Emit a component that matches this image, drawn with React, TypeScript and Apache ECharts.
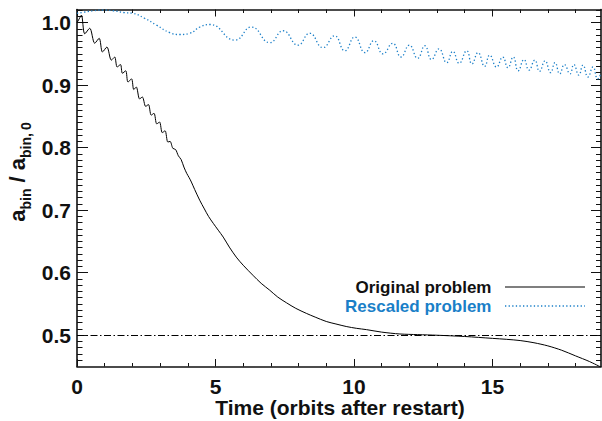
import React, { useEffect, useRef } from "react";
import * as echarts from "echarts";

// ---- data ----
const origT = [0, 0.08, 0.16, 0.28, 0.46, 0.64, 0.8, 0.92, 1.08, 1.24, 1.36, 1.45, 1.57, 1.64, 1.76, 1.84, 1.97, 2.05, 2.14, 2.26, 2.36, 2.48, 2.58, 2.68, 2.78, 2.88, 2.98, 3.08, 3.18, 3.28, 3.36, 3.46, 3.56, 3.66, 3.76, 3.86, 3.96, 4.05, 4.13, 4.25, 4.43, 4.6, 4.75, 4.92, 5.1, 5.28, 5.5, 5.75, 6.0, 6.35, 6.65, 6.96, 7.25, 7.56, 7.9, 8.28, 8.6, 9.0, 9.35, 9.72, 10.1, 10.45, 11.0, 11.66, 12.3, 13.0, 14.0, 15.0, 15.5, 16.0, 16.5, 17.0, 17.5, 18.0, 18.5, 18.92];
const origV = [1.0, 1.006, 1.012, 0.982, 0.991, 0.967, 0.975, 0.953, 0.961, 0.94, 0.945, 0.929, 0.933, 0.919, 0.923, 0.905, 0.91, 0.893, 0.897, 0.878, 0.881, 0.866, 0.869, 0.852, 0.855, 0.838, 0.841, 0.824, 0.827, 0.809, 0.81, 0.799, 0.797, 0.787, 0.781, 0.769, 0.759, 0.752, 0.745, 0.733, 0.716, 0.702, 0.69, 0.679, 0.668, 0.657, 0.641, 0.625, 0.612, 0.596, 0.583, 0.572, 0.561, 0.552, 0.543, 0.535, 0.529, 0.522, 0.518, 0.514, 0.511, 0.509, 0.505, 0.502, 0.501, 0.5, 0.498, 0.495, 0.4935, 0.4915, 0.488, 0.483, 0.476, 0.467, 0.458, 0.449];

const rescT = [0, 0.3, 0.6, 0.95, 1.3, 1.7, 2.0, 2.44, 2.87, 3.35, 3.71, 4.07, 4.44, 4.8, 5.7, 6.3, 6.96, 7.44, 7.98, 8.4, 8.88, 9.3, 9.67, 10.03, 10.4, 10.72, 11.05, 11.4, 11.7, 12.0, 12.3, 12.56, 12.8, 13.07, 13.35, 13.57, 13.8, 14.07, 14.26, 14.48, 14.72, 14.9, 15.15, 15.37, 15.56, 15.75, 15.93, 16.14, 16.32, 16.53, 16.7, 16.9, 17.1, 17.26, 17.43, 17.6, 17.8, 17.94, 18.12, 18.27, 18.45, 18.63, 18.8, 18.92];
const rescV = [1.015, 1.017, 1.019, 1.02, 1.019, 1.016, 1.015, 1.007, 0.996, 0.984, 0.981, 0.983, 0.993, 0.997, 0.972, 0.993, 0.968, 0.987, 0.964, 0.983, 0.96, 0.979, 0.955, 0.977, 0.952, 0.971, 0.95, 0.967, 0.945, 0.964, 0.943, 0.963, 0.941, 0.958, 0.936, 0.954, 0.935, 0.955, 0.934, 0.952, 0.93, 0.948, 0.929, 0.945, 0.928, 0.945, 0.923, 0.941, 0.924, 0.94, 0.922, 0.939, 0.92, 0.936, 0.918, 0.933, 0.918, 0.933, 0.916, 0.932, 0.913, 0.929, 0.91, 0.92];

const xMajor = [0, 5, 10, 15];
const yMajor = [0.5, 0.6, 0.7, 0.8, 0.9, 1.0];
const refLevel = 0.5;
const legendNames = ["Original problem", "Rescaled problem"];
const xTitle = "Time (orbits after restart)";

const X_MIN = 0, X_MAX = 18.92, Y_MIN = 0.45, Y_MAX = 1.021;

const BLUE = "#1a7fc8";
const FONT = "'Liberation Sans', Arial, Helvetica, sans-serif";

function minorTicks(lo: number, hi: number, step: number, majors: number[]) {
  const out: number[] = [];
  const n = Math.round((hi - lo) / step);
  for (let i = 0; i <= n; i++) {
    const v = Math.round((lo + i * step) * 1000) / 1000;
    if (!majors.some((m) => Math.abs(m - v) < 1e-6)) out.push(v);
  }
  return out;
}

export default function App() {
  const ref = useRef<HTMLDivElement>(null);
  useEffect(() => {
    if (!ref.current) return;
    const chart = echarts.init(ref.current, undefined, { renderer: "svg" });
    const xMinor = minorTicks(1, 18, 1, xMajor);
    const yMinor = minorTicks(0.46, 1.02, 0.01, yMajor);
    const axLine = { show: true, onZero: false, lineStyle: { color: "#111", width: 1.6 } };
    const noLine = { show: false, onZero: false };
    const tickStyle = { color: "#111", width: 1 };
    const mkX = (pos: string, vals: number[], len: number, labels: boolean, line: boolean) => ({
      type: "value", position: pos, min: X_MIN, max: X_MAX,
      splitLine: { show: false },
      axisLine: line ? axLine : noLine,
      axisTick: { show: true, inside: true, length: len, customValues: vals, lineStyle: tickStyle },
      axisLabel: labels
        ? { show: true, customValues: vals, margin: 9, fontFamily: FONT, fontWeight: "bold", fontSize: 21, color: "#111", formatter: (v: number) => String(v) }
        : { show: false },
    });
    const mkY = (pos: string, vals: number[], len: number, labels: boolean, line: boolean) => ({
      type: "value", position: pos, min: Y_MIN, max: Y_MAX,
      splitLine: { show: false },
      axisLine: line ? axLine : noLine,
      axisTick: { show: true, inside: true, length: len, customValues: vals, lineStyle: tickStyle },
      axisLabel: labels
        ? { show: true, customValues: vals, margin: 6, fontFamily: FONT, fontWeight: "bold", fontSize: 21, color: "#111", formatter: (v: number) => v.toFixed(1) }
        : { show: false },
    });

    chart.setOption({
      animation: false,
      backgroundColor: "#fff",
      grid: { left: 77, right: 1, top: 9.5, bottom: 54.5, containLabel: false },
      xAxis: [
        mkX("bottom", xMajor, 7.5, true, true),
        mkX("bottom", xMinor, 3.5, false, false),
        mkX("top", xMajor, 7, false, true),
        mkX("top", xMinor, 3.5, false, false),
      ],
      yAxis: [
        mkY("left", yMajor, 11, true, true),
        mkY("left", yMinor, 5.5, false, false),
        mkY("right", yMajor, 10, false, true),
        mkY("right", yMinor, 5, false, false),
      ],
      series: [
        {
          name: legendNames[0], type: "line", xAxisIndex: 0, yAxisIndex: 0,
          data: origT.map((t, i) => [t, origV[i]]),
          showSymbol: false, smooth: 0.3, clip: true,
          lineStyle: { color: "#000", width: 1 },
          markLine: {
            silent: true, symbol: "none", label: { show: false },
            lineStyle: { color: "#000", width: 1, type: [7, 2.5, 1.5, 2.5] },
            data: [{ yAxis: refLevel }],
          },
        },
        {
          name: legendNames[1], type: "line", xAxisIndex: 0, yAxisIndex: 0,
          data: rescT.map((t, i) => [t, rescV[i]]),
          showSymbol: false, smooth: 0.5, clip: true,
          lineStyle: { color: BLUE, width: 1.3, type: [1.3, 2.3] },
        },
      ],
      graphic: [
        {
          type: "text", x: 491.5, y: 287,
          style: { text: legendNames[0], fill: "#111", font: `bold 17px ${FONT}`, textAlign: "right", textVerticalAlign: "middle" },
        },
        { type: "line", shape: { x1: 505, y1: 287, x2: 585, y2: 287 }, style: { stroke: "#000", lineWidth: 1.2 } },
        {
          type: "text", x: 491.5, y: 306,
          style: { text: legendNames[1], fill: BLUE, font: `bold 17px ${FONT}`, textAlign: "right", textVerticalAlign: "middle" },
        },
        { type: "line", shape: { x1: 505, y1: 306, x2: 585, y2: 306 }, style: { stroke: BLUE, lineWidth: 1.3, lineDash: [1.3, 2.3] } },
        {
          type: "text", x: 340, y: 407.5,
          style: { text: xTitle, fill: "#111", font: `bold 21px ${FONT}`, textAlign: "center", textVerticalAlign: "middle" },
        },
        {
          type: "text", x: 17.5, y: 172, rotation: Math.PI / 2,
          style: {
            text: "{a|a}{s|bin}{a| / a}{s|bin,}{z|0}",
            textAlign: "center", textVerticalAlign: "middle", fill: "#111",
            rich: {
              a: { fontFamily: FONT, fontWeight: "bold", fontSize: 22, lineHeight: 30, verticalAlign: "middle", fill: "#111" },
              s: { fontFamily: FONT, fontWeight: "bold", fontSize: 14, lineHeight: 30, verticalAlign: "bottom", fill: "#111" },
              z: { fontFamily: FONT, fontWeight: "bold", fontSize: 14, lineHeight: 30, verticalAlign: "bottom", fill: "#111", padding: [0, 0, 0, 3] },
            },
          },
        },
      ],
    });
    return () => chart.dispose();
  }, []);
  return <div ref={ref} style={{ position: "fixed", left: 0, top: 0, width: 602, height: 421 }} />;
}
